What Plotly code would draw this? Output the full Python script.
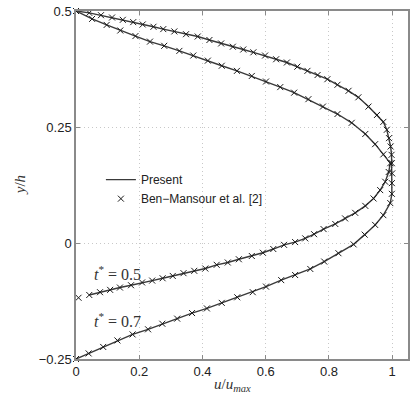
import plotly.graph_objects as go

# t* = 0.7 profile (Ben-Mansour markers / present line)
u_07 = [0.0, 0.040, 0.086, 0.131, 0.179, 0.228, 0.273, 0.320, 0.367, 0.414, 0.461, 0.510,
        0.559, 0.601, 0.649, 0.693, 0.741, 0.785, 0.830, 0.878, 0.913, 0.946, 0.972, 0.994,
        0.999, 0.999, 1.000, 0.999, 0.998, 0.995, 0.990, 0.983, 0.972, 0.952, 0.925, 0.893,
        0.862, 0.827, 0.795, 0.764, 0.732, 0.700, 0.667, 0.633, 0.598, 0.561, 0.529, 0.496,
        0.459, 0.422, 0.385, 0.348, 0.311, 0.276, 0.245, 0.211, 0.181, 0.148, 0.114, 0.079,
        0.042, 0.0]
y_07 = [-0.250, -0.238, -0.224, -0.210, -0.197, -0.186, -0.174, -0.163, -0.151, -0.141, -0.129, -0.117,
        -0.106, -0.094, -0.080, -0.069, -0.056, -0.040, -0.022, -0.003, 0.018, 0.039, 0.060, 0.086,
        0.106, 0.129, 0.150, 0.172, 0.190, 0.208, 0.226, 0.244, 0.261, 0.276, 0.294, 0.314,
        0.328, 0.341, 0.353, 0.362, 0.371, 0.380, 0.389, 0.396, 0.404, 0.411, 0.417, 0.423,
        0.430, 0.4375, 0.445, 0.450, 0.456, 0.461, 0.466, 0.471, 0.476, 0.481, 0.486, 0.491,
        0.496, 0.500]

# t* = 0.5 profile
u_05 = [0.008, 0.042, 0.076, 0.108, 0.139, 0.174, 0.209, 0.241, 0.274, 0.306, 0.340, 0.374,
        0.409, 0.445, 0.480, 0.515, 0.556, 0.591, 0.624, 0.658, 0.693, 0.725, 0.753, 0.783,
        0.820, 0.851, 0.883, 0.915, 0.941, 0.962, 0.978, 0.989, 0.994, 0.972, 0.946, 0.915,
        0.872, 0.827, 0.781, 0.735, 0.690, 0.646, 0.601, 0.556, 0.509, 0.461, 0.417, 0.371,
        0.327, 0.279, 0.234, 0.188, 0.140, 0.097, 0.051, 0.0]
y_05 = [-0.118, -0.112, -0.106, -0.101, -0.096, -0.091, -0.085, -0.081, -0.076, -0.071, -0.065, -0.060,
        -0.055, -0.047, -0.042, -0.035, -0.028, -0.021, -0.013, -0.004, 0.002, 0.010, 0.019, 0.030,
        0.041, 0.053, 0.065, 0.080, 0.096, 0.114, 0.132, 0.153, 0.172, 0.191, 0.213, 0.235,
        0.259, 0.278, 0.294, 0.310, 0.324, 0.336, 0.348, 0.360, 0.371, 0.382, 0.393, 0.404,
        0.414, 0.425, 0.434, 0.446, 0.458, 0.470, 0.483, 0.500]

x_ticks = [0, 0.2, 0.4, 0.6, 0.8, 1]
x_tick_text = ["0", "0.2", "0.4", "0.6", "0.8", "1"]
y_ticks = [-0.25, 0, 0.25, 0.5]
y_tick_text = ["\u22120.25", "0", "0.25", "0.5"]

line_color = "#3a3a3a"
mk = dict(symbol="x-thin", size=6, line=dict(width=1, color="#1a1a1a"), color="#1a1a1a")

fig = go.Figure()
# Present (lines)
fig.add_trace(go.Scatter(x=u_07, y=y_07, mode="lines", line=dict(color=line_color, width=1.4),
                         name="Present", showlegend=True, cliponaxis=False))
fig.add_trace(go.Scatter(x=u_05[1:], y=y_05[1:], mode="lines", line=dict(color=line_color, width=1.4),
                         name="Present", showlegend=False, cliponaxis=False))
# Reference (markers)
fig.add_trace(go.Scatter(x=u_07, y=y_07, mode="markers", marker=mk,
                         name="Ben\u2212Mansour et al. [2]", showlegend=True, cliponaxis=False))
fig.add_trace(go.Scatter(x=u_05, y=y_05, mode="markers", marker=mk,
                         name="Ben\u2212Mansour et al. [2]", showlegend=False, cliponaxis=False))

axis_common = dict(
    showline=True, linecolor="#8a8a8a", linewidth=1.5, mirror="ticks",
    ticks="inside", ticklen=4, tickcolor="#8a8a8a",
    showgrid=True, gridcolor="#c8c8c8", griddash="1px,3px", gridwidth=1,
    zeroline=False, automargin=False,
    tickfont=dict(family="Liberation Sans, Arial, sans-serif", size=13, color="#222"),
)

fig.update_xaxes(range=[0, 1.05], tickvals=x_ticks, ticktext=x_tick_text, **axis_common)
fig.update_yaxes(range=[-0.25, 0.5], tickvals=y_ticks, ticktext=y_tick_text, **axis_common)

title_font = dict(family="Liberation Serif, serif", size=15, color="#333")
fig.add_annotation(x=0.47, y=-0.075, xref="paper", yref="paper", xanchor="center", yanchor="middle",
                   text="<i>u</i>/<i>u</i><sub><i>max</i></sub>", showarrow=False, font=title_font)
fig.add_annotation(x=-0.168, y=0.5, xref="paper", yref="paper", xanchor="center", yanchor="middle",
                   text="<i>y</i>/<i>h</i>", textangle=-90, showarrow=False, font=title_font)

ann_font = dict(family="Liberation Serif, serif", size=16, color="#333")
fig.add_annotation(x=0.05, y=-0.065, xref="x", yref="y", xanchor="left", yanchor="middle",
                   text="<i>t</i><sup>*</sup> = 0.5", showarrow=False, font=ann_font)
fig.add_annotation(x=0.05, y=-0.166, xref="x", yref="y", xanchor="left", yanchor="middle",
                   text="<i>t</i><sup>*</sup> = 0.7", showarrow=False, font=ann_font)

fig.update_layout(
    width=413, height=400,
    margin=dict(l=76, r=5, t=11, b=41, autoexpand=False),
    paper_bgcolor="white", plot_bgcolor="white",
    font=dict(family="Liberation Sans, Arial, sans-serif", size=12, color="#222"),
    legend=dict(x=0.075, y=0.557, xanchor="left", yanchor="top",
                bgcolor="rgba(0,0,0,0)", borderwidth=0,
                font=dict(family="Liberation Sans, Arial, sans-serif", size=12, color="#222"),
                tracegroupgap=0, itemwidth=30),
    showlegend=True,
)

fig.write_html("out.html", config={"displayModeBar": False},
               post_script="document.body.style.margin='0';")
